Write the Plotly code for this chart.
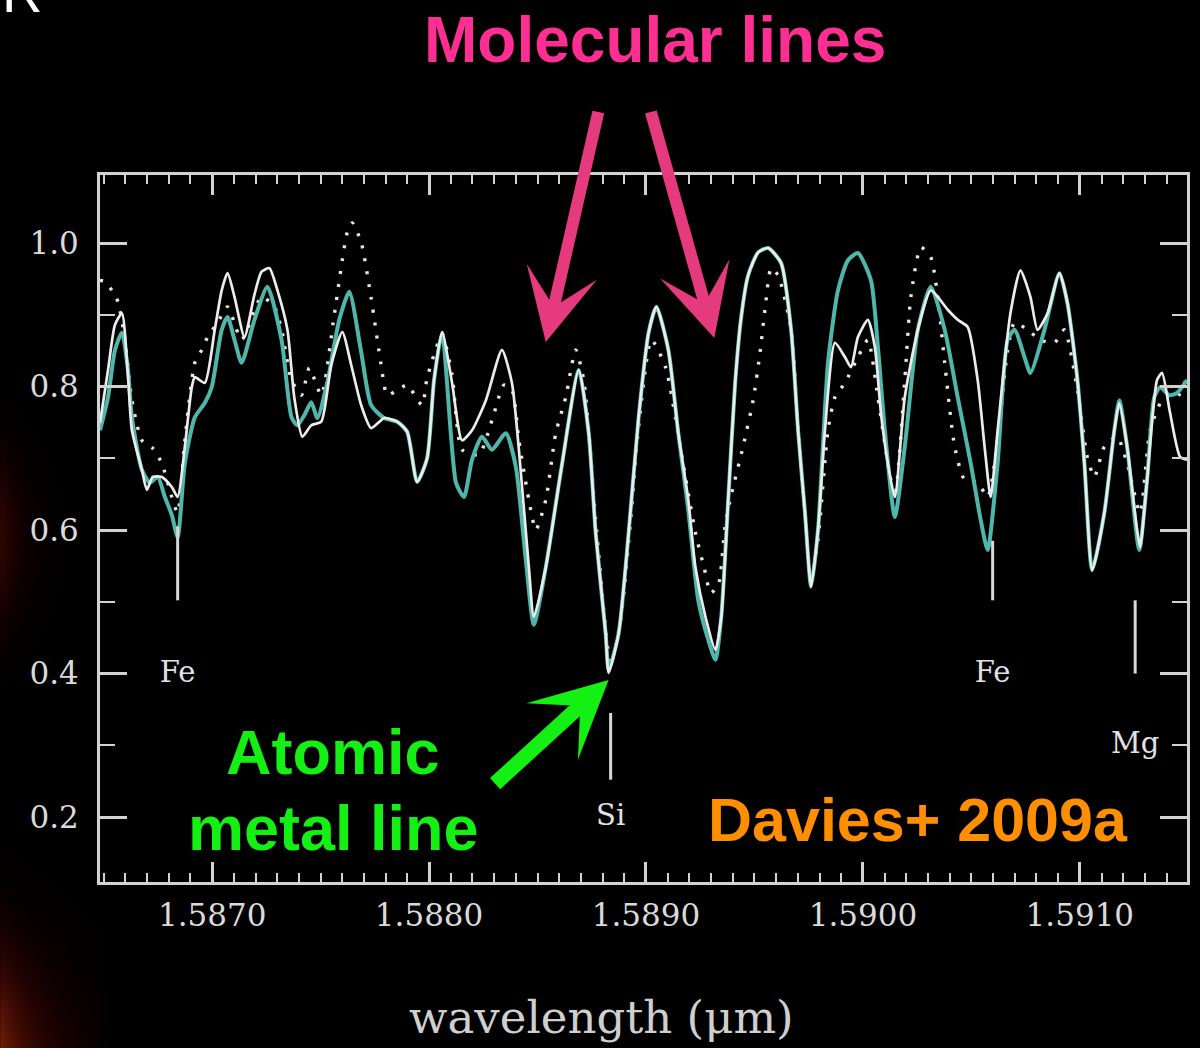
import base64, zlib, struct, math
import plotly.graph_objects as go

# ---------------- data ----------------
obs_wl = [1.586483, 1.586520, 1.586552, 1.586584, 1.586612, 1.586630, 1.586676, 1.586699, 1.586726, 1.586768,
          1.586814, 1.586841, 1.586874, 1.586906, 1.586920, 1.586966, 1.587012, 1.587044, 1.587071, 1.587103,
          1.587149, 1.587195, 1.587228, 1.587264, 1.587301, 1.587347, 1.587379, 1.587416, 1.587457, 1.587503,
          1.587549, 1.587600, 1.587641, 1.587687, 1.587733, 1.587793, 1.587853, 1.587899, 1.587945, 1.587991,
          1.588023, 1.588060, 1.588106, 1.588152, 1.588198, 1.588262, 1.588336, 1.588382, 1.588414, 1.588460,
          1.588483, 1.588538, 1.588611, 1.588690, 1.588736, 1.588768, 1.588814, 1.588828, 1.588874, 1.588920,
          1.588966, 1.589012, 1.589048, 1.589103, 1.589149, 1.589195, 1.589228, 1.589274, 1.589320, 1.589347,
          1.589379, 1.589411, 1.589439, 1.589471, 1.589517, 1.589563, 1.589623, 1.589669, 1.589701, 1.589733,
          1.589761, 1.589793, 1.589825, 1.589871, 1.589917, 1.589945, 1.589977, 1.590023, 1.590055, 1.590083,
          1.590115, 1.590147, 1.590193, 1.590253, 1.590313, 1.590391, 1.590437, 1.590483, 1.590529, 1.590561,
          1.590589, 1.590621, 1.590680, 1.590726, 1.590772, 1.590805, 1.590851, 1.590906, 1.590943, 1.590989,
          1.591021, 1.591057, 1.591113, 1.591159, 1.591182, 1.591218, 1.591264, 1.591278, 1.591310, 1.591356,
          1.591379, 1.591416, 1.591462, 1.591494]
obs_flux = [0.749, 0.823, 0.886, 0.902, 0.815, 0.739, 0.684, 0.656, 0.674, 0.674,
            0.660, 0.646, 0.716, 0.799, 0.813, 0.805, 0.879, 0.934, 0.958, 0.925,
            0.869, 0.928, 0.960, 0.965, 0.934, 0.879, 0.784, 0.730, 0.746, 0.751,
            0.830, 0.876, 0.830, 0.774, 0.742, 0.756, 0.751, 0.737, 0.667, 0.700,
            0.809, 0.876, 0.805, 0.725, 0.739, 0.781, 0.851, 0.805, 0.712, 0.548,
            0.479, 0.548, 0.688, 0.823, 0.735, 0.596, 0.456, 0.401, 0.456, 0.596,
            0.757, 0.875, 0.911, 0.851, 0.735, 0.642, 0.548, 0.479, 0.433, 0.479,
            0.642, 0.805, 0.897, 0.955, 0.987, 0.993, 0.972, 0.879, 0.739, 0.624,
            0.521, 0.600, 0.739, 0.861, 0.841, 0.827, 0.869, 0.893, 0.855, 0.763,
            0.693, 0.646, 0.785, 0.879, 0.934, 0.907, 0.893, 0.883, 0.809, 0.716,
            0.646, 0.739, 0.902, 0.962, 0.925, 0.879, 0.902, 0.958, 0.916, 0.809,
            0.693, 0.544, 0.624, 0.739, 0.777, 0.716, 0.600, 0.576, 0.670, 0.809,
            0.819, 0.763, 0.702, 0.698]

model_wl = [1.586483, 1.586520, 1.586552, 1.586584, 1.586612, 1.586630, 1.586676, 1.586713, 1.586749, 1.586782,
            1.586814, 1.586841, 1.586874, 1.586920, 1.586966, 1.586998, 1.587044, 1.587071, 1.587103, 1.587136,
            1.587195, 1.587255, 1.587320, 1.587366, 1.587393, 1.587425, 1.587457, 1.587485, 1.587531, 1.587586,
            1.587632, 1.587687, 1.587733, 1.587793, 1.587853, 1.587899, 1.587945, 1.587991, 1.588023, 1.588060,
            1.588124, 1.588161, 1.588198, 1.588244, 1.588290, 1.588354, 1.588400, 1.588446, 1.588483, 1.588538,
            1.588611, 1.588690, 1.588736, 1.588768, 1.588814, 1.588828, 1.588874, 1.588920, 1.588966, 1.589012,
            1.589048, 1.589103, 1.589149, 1.589195, 1.589241, 1.589287, 1.589320, 1.589347, 1.589379, 1.589411,
            1.589439, 1.589471, 1.589517, 1.589563, 1.589623, 1.589669, 1.589701, 1.589733, 1.589761, 1.589793,
            1.589839, 1.589885, 1.589931, 1.589977, 1.590037, 1.590069, 1.590101, 1.590147, 1.590193, 1.590253,
            1.590313, 1.590377, 1.590437, 1.590497, 1.590543, 1.590575, 1.590621, 1.590667, 1.590699, 1.590745,
            1.590772, 1.590837, 1.590906, 1.590943, 1.590989, 1.591021, 1.591057, 1.591113, 1.591159, 1.591182,
            1.591218, 1.591274, 1.591310, 1.591343, 1.591370, 1.591412, 1.591448, 1.591494]
model_flux = [0.739, 0.785, 0.851, 0.875, 0.823, 0.757, 0.684, 0.666, 0.674, 0.646,
              0.621, 0.590, 0.693, 0.757, 0.777, 0.799, 0.879, 0.897, 0.865, 0.833,
              0.893, 0.939, 0.865, 0.757, 0.746, 0.760, 0.778, 0.756, 0.806, 0.893,
              0.932, 0.848, 0.774, 0.756, 0.751, 0.737, 0.667, 0.700, 0.809, 0.875,
              0.666, 0.646, 0.698, 0.730, 0.712, 0.735, 0.688, 0.558, 0.468, 0.548,
              0.688, 0.823, 0.735, 0.596, 0.456, 0.405, 0.456, 0.596, 0.757, 0.875,
              0.911, 0.851, 0.735, 0.628, 0.502, 0.447, 0.419, 0.479, 0.642, 0.805,
              0.897, 0.955, 0.987, 0.993, 0.972, 0.879, 0.739, 0.624, 0.521, 0.600,
              0.833, 0.934, 0.976, 0.986, 0.948, 0.855, 0.739, 0.618, 0.716, 0.879,
              0.939, 0.879, 0.785, 0.693, 0.614, 0.572, 0.693, 0.865, 0.879, 0.841,
              0.819, 0.879, 0.958, 0.916, 0.809, 0.693, 0.544, 0.624, 0.739, 0.781,
              0.716, 0.572, 0.670, 0.785, 0.799, 0.788, 0.791, 0.809]

alt_wl = [1.586483, 1.586506, 1.586538, 1.586566, 1.586598, 1.586630, 1.586676, 1.586726, 1.586768, 1.586814,
          1.586841, 1.586874, 1.586920, 1.586952, 1.586979, 1.587025, 1.587071, 1.587136, 1.587228, 1.587287,
          1.587320, 1.587366, 1.587412, 1.587448, 1.587503, 1.587563, 1.587623, 1.587646, 1.587687, 1.587733,
          1.587779, 1.587807, 1.587853, 1.587899, 1.587968, 1.587991, 1.588060, 1.588106, 1.588152, 1.588230,
          1.588290, 1.588345, 1.588382, 1.588414, 1.588460, 1.588492, 1.588538, 1.588584, 1.588630, 1.588676,
          1.588713, 1.588768, 1.588814, 1.588837, 1.588883, 1.588929, 1.588966, 1.589025, 1.589090, 1.589163,
          1.589228, 1.589274, 1.589297, 1.589333, 1.589366, 1.589393, 1.589448, 1.589494, 1.589526, 1.589549,
          1.589577, 1.589609, 1.589669, 1.589701, 1.589733, 1.589761, 1.589793, 1.589839, 1.589871, 1.589917,
          1.589977, 1.590023, 1.590069, 1.590115, 1.590147, 1.590193, 1.590221, 1.590267, 1.590313, 1.590345,
          1.590377, 1.590423, 1.590469, 1.590529, 1.590575, 1.590621, 1.590667, 1.590699, 1.590759, 1.590818,
          1.590883, 1.590929, 1.590989, 1.591034, 1.591067, 1.591113, 1.591172, 1.591218, 1.591278, 1.591324,
          1.591388, 1.591448, 1.591494]
alt_flux = [0.948, 0.946, 0.934, 0.918, 0.865, 0.781, 0.725, 0.714, 0.693, 0.646,
            0.624, 0.725, 0.833, 0.851, 0.869, 0.889, 0.911, 0.865, 0.925, 0.911,
            0.879, 0.809, 0.788, 0.826, 0.788, 0.900, 1.015, 1.028, 1.001, 0.923,
            0.830, 0.788, 0.795, 0.802, 0.774, 0.812, 0.872, 0.816, 0.712, 0.705,
            0.753, 0.802, 0.795, 0.725, 0.642, 0.600, 0.642, 0.735, 0.785, 0.851,
            0.809, 0.614, 0.461, 0.412, 0.474, 0.614, 0.744, 0.865, 0.827, 0.707,
            0.596, 0.540, 0.512, 0.523, 0.610, 0.649, 0.717, 0.781, 0.848, 0.909,
            0.965, 0.955, 0.879, 0.739, 0.624, 0.530, 0.586, 0.739, 0.785, 0.805,
            0.841, 0.865, 0.785, 0.693, 0.646, 0.809, 0.925, 0.994, 0.980, 0.925,
            0.833, 0.716, 0.670, 0.666, 0.646, 0.725, 0.851, 0.889, 0.879, 0.865,
            0.861, 0.879, 0.795, 0.702, 0.674, 0.716, 0.730, 0.693, 0.624, 0.739,
            0.785, 0.785, 0.813]

line_names = ["Fe", "Si", "Fe", "Mg"]
line_wl = [1.586841, 1.588837, 1.590598, 1.591255]
line_top = [0.605, 0.345, 0.585, 0.502]
line_bottom = [0.502, 0.252, 0.502, 0.400]
line_label_y = [0.398, 0.199, 0.398, 0.300]

x_tickvals = [1.5870, 1.5880, 1.5890, 1.5900, 1.5910]
x_ticktext = ["1.5870", "1.5880", "1.5890", "1.5900", "1.5910"]
y_tickvals = [0.2, 0.4, 0.6, 0.8, 1.0]
y_ticktext = ["0.2", "0.4", "0.6", "0.8", "1.0"]
x_range = [1.586483, 1.591494]
y_range = [0.1094, 1.0948]

# ---------------- background glow (decoration) ----------------
def png_rgb(w, h, rows):
    def chunk(tag, data):
        c = struct.pack(">I", len(data)) + tag + data
        return c + struct.pack(">I", zlib.crc32(tag + data) & 0xffffffff)
    raw = b"".join(b"\x00" + r for r in rows)
    return (b"\x89PNG\r\n\x1a\n" + chunk(b"IHDR", struct.pack(">IIBBBBB", w, h, 8, 2, 0, 0, 0))
            + chunk(b"IDAT", zlib.compress(raw, 9)) + chunk(b"IEND", b""))

GW, GH, GY0 = 100, 648, 400
rows = []
for j in range(GH):
    yy = GY0 + j
    a_top = 0.30 * math.exp(-((yy - 540) / 85.0) ** 2)
    a_bot = 0.72 * math.exp(-((yy - 1075) / 115.0) ** 2)
    row = bytearray()
    for i in range(GW):
        I = a_top * math.exp(-i / 20.0) + a_bot * math.exp(-i / 40.0)
        row += bytes((int(min(255, 165 * I)), int(min(255, 60 * I * I + 6 * I)), int(min(255, 10 * I))))
    rows.append(bytes(row))
glow_src = "data:image/png;base64," + base64.b64encode(png_rgb(GW, GH, rows)).decode()

# ---------------- figure ----------------
FRAME = "#d2d2d2"
fig = go.Figure()

fig.add_trace(go.Scatter(x=alt_wl, y=alt_flux, mode="lines",
                         line=dict(color="#e6e6e6", width=3.4, dash="3px,10px", shape="spline", smoothing=0.6),
                         hoverinfo="skip", showlegend=False))
fig.add_trace(go.Scatter(x=model_wl, y=model_flux, mode="lines",
                         line=dict(color="#4fb6ab", width=4, shape="spline", smoothing=0.6),
                         hoverinfo="skip", showlegend=False))
fig.add_trace(go.Scatter(x=obs_wl, y=obs_flux, mode="lines",
                         line=dict(color="#ececec", width=2.7, shape="spline", smoothing=0.6),
                         hoverinfo="skip", showlegend=False))

seg_x, seg_y = [], []
for w, t, b in zip(line_wl, line_top, line_bottom):
    seg_x += [w, w, None]
    seg_y += [t, b, None]
fig.add_trace(go.Scatter(x=seg_x, y=seg_y, mode="lines", line=dict(color="#d8d8d8", width=3),
                         hoverinfo="skip", showlegend=False))
fig.add_trace(go.Scatter(x=line_wl, y=line_label_y, mode="text", text=line_names,
                         textfont=dict(family="DejaVu Serif", size=29, color="#e2e2e2"),
                         textposition="middle center", hoverinfo="skip", showlegend=False))

tickfont = dict(family="DejaVu Serif", size=31, color="#dadada")
fig.update_xaxes(range=x_range, tickmode="array", tickvals=x_tickvals, ticktext=x_ticktext,
                 ticks="inside", ticklen=20, tickwidth=2.5, tickcolor=FRAME,
                 minor=dict(tickmode="linear", tick0=1.587, dtick=0.0001, ticks="inside", ticklen=9,
                            tickwidth=2, tickcolor=FRAME),
                 showline=True, linecolor=FRAME, linewidth=3, mirror="ticks",
                 showgrid=False, zeroline=False, tickfont=tickfont, ticklabelstandoff=4)
fig.update_yaxes(range=y_range, tickmode="array", tickvals=y_tickvals, ticktext=y_ticktext,
                 ticks="inside", ticklen=27, tickwidth=2.5, tickcolor=FRAME,
                 minor=dict(tickmode="linear", tick0=0.0, dtick=0.1, ticks="inside", ticklen=15,
                            tickwidth=2, tickcolor=FRAME),
                 showline=True, linecolor=FRAME, linewidth=3, mirror="ticks",
                 showgrid=False, zeroline=False, tickfont=tickfont, ticklabelstandoff=12)

bold = "Liberation Sans, Arial, Helvetica, sans-serif"
ann = [
    dict(text="<b>Molecular lines</b>", x=0.5110, y=1.1910, xref="paper", yref="paper",
         xanchor="center", yanchor="middle", showarrow=False,
         font=dict(family=bold, size=64, color="#ff2e93")),
    dict(text="<b>Atomic</b>", x=0.2147, y=0.1839, xref="paper", yref="paper",
         xanchor="center", yanchor="middle", showarrow=False,
         font=dict(family=bold, size=63, color="#14f014")),
    dict(text="<b>metal line</b>", x=0.2147, y=0.0764, xref="paper", yref="paper",
         xanchor="center", yanchor="middle", showarrow=False,
         font=dict(family=bold, size=63, color="#14f014")),
    dict(text="<b>Davies+ 2009a</b>", x=0.7523, y=0.0877, xref="paper", yref="paper",
         xanchor="center", yanchor="middle", showarrow=False,
         font=dict(family=bold, size=61, color="#ff8f00")),
    dict(text="wavelength (μm)", x=0.4615, y=-0.1920, xref="paper", yref="paper",
         xanchor="center", yanchor="middle", showarrow=False,
         font=dict(family="DejaVu Serif", size=45, color="#cfcfcf")),
    dict(text="R", x=-0.0716, y=1.2588, xref="paper", yref="paper",
         xanchor="center", yanchor="middle", showarrow=False,
         font=dict(family=bold, size=56, color="#ffffff")),
    # arrows
    dict(text=" ", x=0.41009, y=0.76379, xref="paper", yref="paper", ax=53, ay=-232,
         showarrow=True, arrowhead=3, arrowwidth=12, arrowsize=1.0, arrowcolor="#e63a7e",
         font=dict(size=1)),
    dict(text=" ", x=0.56514, y=0.76945, xref="paper", yref="paper", ax=-64, ay=-228,
         showarrow=True, arrowhead=3, arrowwidth=12, arrowsize=1.0, arrowcolor="#e63a7e",
         font=dict(size=1)),
    dict(text=" ", x=0.46789, y=0.28571, xref="paper", yref="paper", ax=-115, ay=105,
         showarrow=True, arrowhead=3, arrowwidth=15, arrowsize=0.85, arrowcolor="#14f014",
         font=dict(size=1)),
]

fig.update_layout(
    width=1200, height=1048,
    margin=dict(l=100, r=10, t=175, b=166, pad=0),
    paper_bgcolor="black", plot_bgcolor="black",
    showlegend=False,
    annotations=ann,
    images=[dict(source=glow_src, xref="paper", yref="paper", x=-0.091743, y=0.681754,
                 sizex=0.091743, sizey=0.916549, xanchor="left", yanchor="top",
                 sizing="stretch", layer="below")],
)

fig.write_html("out.html")
